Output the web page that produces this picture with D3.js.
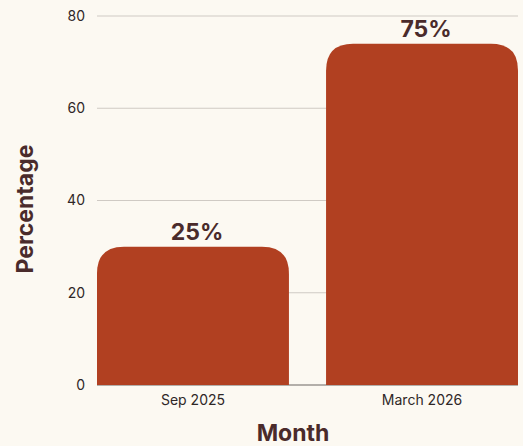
<!DOCTYPE html>
<html>
<head>
<meta charset="utf-8">
<script src="https://cdn.jsdelivr.net/npm/d3@7"></script>
<style>
  html, body { margin: 0; padding: 0; background: #fcf9f2; }
  svg { display: block; }
</style>
</head>
<body>
<svg id="chart" width="523" height="446"></svg>
<script>
const categories = ["Sep 2025", "March 2026"];
const values = [30, 74];
const valueLabels = ["25%", "75%"];
const yTicks = [0, 20, 40, 60, 80];
const xTitle = "Month";
const yTitle = "Percentage";

const W = 523, H = 446;
const margin = { top: 16, right: 5, bottom: 61, left: 97 };
const svg = d3.select("#chart");
const iw = W - margin.left - margin.right;
const ih = H - margin.top - margin.bottom;
const g = svg.append("g").attr("transform", `translate(${margin.left},${margin.top})`);

const x = d3.scaleBand().domain(categories).range([0, iw]).paddingInner(0.162).paddingOuter(0);
const y = d3.scaleLinear().domain([0, 80]).range([ih, 0]);

const font = "Inter, 'Open Sans', sans-serif";
const textColor = "#2f2727";
const titleColor = "#4a2b2b";

// gridlines
g.append("g")
  .selectAll("line")
  .data(yTicks.filter(t => t !== 0))
  .join("line")
  .attr("x1", 0).attr("x2", iw)
  .attr("y1", d => y(d)).attr("y2", d => y(d))
  .attr("stroke", "#cfcac4").attr("stroke-width", 1);

// y axis labels
const yAxis = g.append("g").call(d3.axisLeft(y).tickValues(yTicks).tickSize(0).tickPadding(12));
yAxis.select(".domain").remove();
yAxis.selectAll("text").attr("font-family", font).attr("font-size", 14).attr("fill", textColor);

// baseline
g.append("line")
  .attr("x1", 0).attr("x2", iw)
  .attr("y1", y(0)).attr("y2", y(0))
  .attr("stroke", "#6b6663").attr("stroke-width", 1.2);

// bars with rounded top corners
const r = 27;
function barPath(d, i) {
  const x0 = x(categories[i]), x1 = x0 + x.bandwidth();
  const yt = y(d), yb = y(0);
  const rr = Math.min(r, (yb - yt), x.bandwidth() / 2);
  return `M${x0},${yb} L${x0},${yt + rr} Q${x0},${yt} ${x0 + rr},${yt} L${x1 - rr},${yt} Q${x1},${yt} ${x1},${yt + rr} L${x1},${yb} Z`;
}
g.append("g")
  .selectAll("path")
  .data(values)
  .join("path")
  .attr("d", (d, i) => barPath(d, i))
  .attr("fill", "#b14021");

// value labels
g.append("g")
  .selectAll("text")
  .data(values)
  .join("text")
  .attr("x", (d, i) => x(categories[i]) + x.bandwidth() / 2 + 4)
  .attr("y", d => y(d) - 6.5)
  .attr("text-anchor", "middle")
  .attr("font-family", font)
  .attr("font-weight", 700)
  .attr("font-size", 23)
  .attr("fill", titleColor)
  .text((d, i) => valueLabels[i]);

// x axis labels
const xAxis = g.append("g").attr("transform", `translate(0,${ih})`)
  .call(d3.axisBottom(x).tickSize(0).tickPadding(10));
xAxis.select(".domain").remove();
xAxis.selectAll("text").attr("font-family", font).attr("font-size", 14).attr("fill", textColor);

// axis titles
svg.append("text")
  .attr("x", 293)
  .attr("y", 441)
  .attr("text-anchor", "middle")
  .attr("font-family", font).attr("font-weight", 700).attr("font-size", 23)
  .attr("fill", titleColor)
  .text(xTitle);

svg.append("text")
  .attr("transform", `translate(33,${209}) rotate(-90)`)
  .attr("text-anchor", "middle")
  .attr("font-family", font).attr("font-weight", 700).attr("font-size", 23)
  .attr("fill", titleColor)
  .text(yTitle);
</script>
</body>
</html>
